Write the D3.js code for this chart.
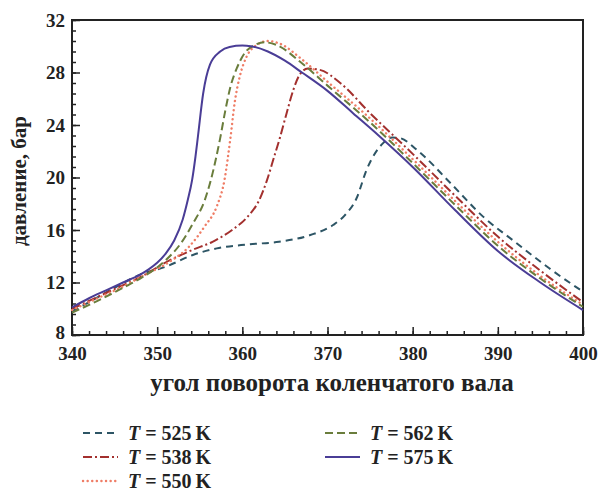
<!DOCTYPE html>
<html>
<head>
<meta charset="utf-8">
<script src="https://cdn.jsdelivr.net/npm/d3@7"></script>
<style>
  body { margin: 0; background: #fff; }
  svg text { font-family: "Liberation Serif", "DejaVu Serif", serif; font-weight: bold; fill: #222; }
</style>
</head>
<body>
<svg id="chart" width="606" height="493"></svg>
<script>
//Series data: crank angle (deg) and pressure (bar) for each temperature
var angle525 = [340, 342, 345, 348, 351, 354.2, 357, 360.6, 364.3, 367.9, 370.7, 372, 373.4, 374.6, 376.5, 377.6, 378.5, 380.5, 384.4, 388.3, 392, 396, 400];
var press525 = [9.8, 10.5, 11.6, 12.6, 13.2, 14.1, 14.6, 14.9, 15.1, 15.6, 16.4, 17.1, 18.4, 20.6, 22.6, 23.05, 23.0, 22.1, 19.6, 17.0, 15.1, 13.1, 11.3];

var angle538 = [340, 343, 346, 348, 351.5, 354.2, 356.5, 358.8, 360.6, 362, 362.9, 363.7, 364.4, 365.2, 366, 366.8, 367.7, 369.1, 371.5, 375, 380, 385, 390, 395, 400];
var press538 = [10.0, 10.9, 11.8, 12.4, 13.7, 14.5, 15.1, 16.0, 17.0, 18.3, 19.8, 21.5, 23.0, 24.9, 26.7, 27.9, 28.3, 28.2, 27.2, 24.9, 21.8, 18.6, 15.5, 12.9, 10.5];

var angle550 = [340, 343, 346, 348, 351.5, 353.7, 355.6, 357, 357.9, 358.6, 359.1, 359.7, 360.5, 361.7, 363, 364.4, 367, 370, 375, 380, 385, 390, 395, 400];
var press550 = [9.9, 10.8, 11.7, 12.4, 13.6, 14.7, 16.3, 17.8, 19.8, 23.0, 25.7, 27.7, 29.2, 30.1, 30.4, 30.2, 29.0, 27.3, 24.5, 21.4, 18.2, 15.1, 12.5, 10.3];

var angle562 = [340, 343, 346, 348, 351, 352.8, 354.2, 355.6, 356.3, 357.4, 358, 358.6, 359.4, 360.3, 361.5, 362.6, 364, 367, 370, 375, 380, 385, 390, 395, 400];
var press562 = [9.7, 10.6, 11.6, 12.3, 13.7, 15.0, 16.5, 18.3, 19.8, 23.0, 25.1, 26.9, 28.4, 29.5, 30.1, 30.3, 30.1, 28.7, 27.0, 24.2, 21.1, 17.9, 14.8, 12.3, 10.15];

var angle575 = [340, 342, 344, 346, 348, 349, 350, 351, 352, 353, 353.6, 354.1, 354.5, 354.8, 355.4, 356.2, 357.4, 358.5, 360, 361, 363, 365, 367, 370, 373, 376, 380, 385, 390, 395, 400];
var press575 = [10.1, 10.8, 11.4, 12.0, 12.6, 13.0, 13.5, 14.2, 15.2, 16.8, 18.3, 19.8, 21.6, 23.2, 26.4, 28.6, 29.6, 29.95, 30.05, 30.0, 29.6, 28.9, 28.0, 26.6, 24.9, 23.2, 20.8, 17.5, 14.4, 12.0, 9.9];

//Legend labels and axis ticks
var temps = ["525", "538", "550", "562", "575"];
var xTicks = [340, 350, 360, 370, 380, 390, 400];
var yTicks = [8, 12, 16, 20, 24, 28, 32];

(function(){
    var svg = d3.select("#chart");

    //Plot area
    var left = 72, right = 583, top = 20, bottom = 335;

    var x = d3.scaleLinear().domain([340, 400]).range([left, right]);
    var y = d3.scaleLinear().domain([8, 32]).range([bottom, top]);

    //Line styles per series
    var styles = [
        {color: "#2d5565", dash: "7,5", cap: "butt"},
        {color: "#a3302e", dash: "9,3,2,3", cap: "butt"},
        {color: "#ef7d66", dash: "0.1,4.5", cap: "round"},
        {color: "#6a7d3c", dash: "8,4", cap: "butt"},
        {color: "#4a3d96", dash: null, cap: "butt"}
    ];
    var series = [
        d3.zip(angle525, press525),
        d3.zip(angle538, press538),
        d3.zip(angle550, press550),
        d3.zip(angle562, press562),
        d3.zip(angle575, press575)
    ];

    //Minor ticks
    var minorX = d3.range(340, 400.01, 2);
    var minorY = d3.range(8, 32.01, 0.8);

    svg.append("g")
        .attr("transform", "translate(0," + bottom + ")")
        .call(d3.axisBottom(x).tickValues(minorX).tickSize(-4).tickFormat(""))
        .call(function(g){ g.select(".domain").remove(); })
        .selectAll("line").attr("stroke", "#222").attr("stroke-width", 1.5);

    svg.append("g")
        .attr("transform", "translate(" + left + ",0)")
        .call(d3.axisLeft(y).tickValues(minorY).tickSize(-4).tickFormat(""))
        .call(function(g){ g.select(".domain").remove(); })
        .selectAll("line").attr("stroke", "#222").attr("stroke-width", 1.5);

    //Major ticks with labels
    var xAxis = svg.append("g")
        .attr("transform", "translate(0," + bottom + ")")
        .call(d3.axisBottom(x).tickValues(xTicks).tickSize(-8).tickPadding(12).tickFormat(d3.format("d")));
    xAxis.select(".domain").remove();
    xAxis.selectAll("line").attr("stroke", "#222").attr("stroke-width", 1.5);
    xAxis.selectAll("text").attr("font-size", 19).attr("font-family", null).attr("fill", "#222");

    var yAxis = svg.append("g")
        .attr("transform", "translate(" + left + ",0)")
        .call(d3.axisLeft(y).tickValues(yTicks).tickSize(-8).tickPadding(7).tickFormat(d3.format("d")));
    yAxis.select(".domain").remove();
    yAxis.selectAll("line").attr("stroke", "#222").attr("stroke-width", 1.5);
    yAxis.selectAll("text").attr("font-size", 19).attr("font-family", null).attr("fill", "#222");
    //Lift the bottom label a little so it clears the x labels
    yAxis.selectAll("text").filter(function(d){ return d === 8; }).attr("dy", "0.2em");

    //Frame
    svg.append("rect")
        .attr("x", left).attr("y", top)
        .attr("width", right - left).attr("height", bottom - top)
        .attr("fill", "none").attr("stroke", "#222").attr("stroke-width", 2);

    //Curves
    var line = d3.line()
        .x(function(d){ return x(d[0]); })
        .y(function(d){ return y(d[1]); })
        .curve(d3.curveMonotoneX);

    var plot = svg.append("g");
    series.forEach(function(data, i){
        plot.append("path")
            .datum(data)
            .attr("fill", "none")
            .attr("stroke", styles[i].color)
            .attr("stroke-width", i === 2 ? 2.4 : 2)
            .attr("stroke-dasharray", styles[i].dash)
            .attr("stroke-linecap", styles[i].cap)
            .attr("d", line);
    });

    //Axis titles
    svg.append("text")
        .attr("x", 332).attr("y", 391)
        .attr("text-anchor", "middle")
        .attr("font-size", 25)
        .text("угол поворота коленчатого вала");

    svg.append("text")
        .attr("transform", "translate(26,181) rotate(-90)")
        .attr("text-anchor", "middle")
        .attr("font-size", 21)
        .text("давление, бар");

    //Legend
    var legendPos = [[83, 440], [83, 464], [83, 488], [325, 440], [325, 464]];
    temps.forEach(function(t, i){
        var p = legendPos[i];
        svg.append("line")
            .attr("x1", p[0]).attr("x2", p[0] + 35)
            .attr("y1", p[1] - 7).attr("y2", p[1] - 7)
            .attr("stroke", styles[i].color)
            .attr("stroke-width", i === 2 ? 2.4 : 2)
            .attr("stroke-dasharray", styles[i].dash)
            .attr("stroke-linecap", styles[i].cap);
        var txt = svg.append("text")
            .attr("x", p[0] + 45).attr("y", p[1])
            .attr("font-size", 20);
        txt.append("tspan").attr("font-style", "italic").text("T");
        txt.append("tspan").text(" = " + t + "\u2009K");
    });
})();
</script>
</body>
</html>
